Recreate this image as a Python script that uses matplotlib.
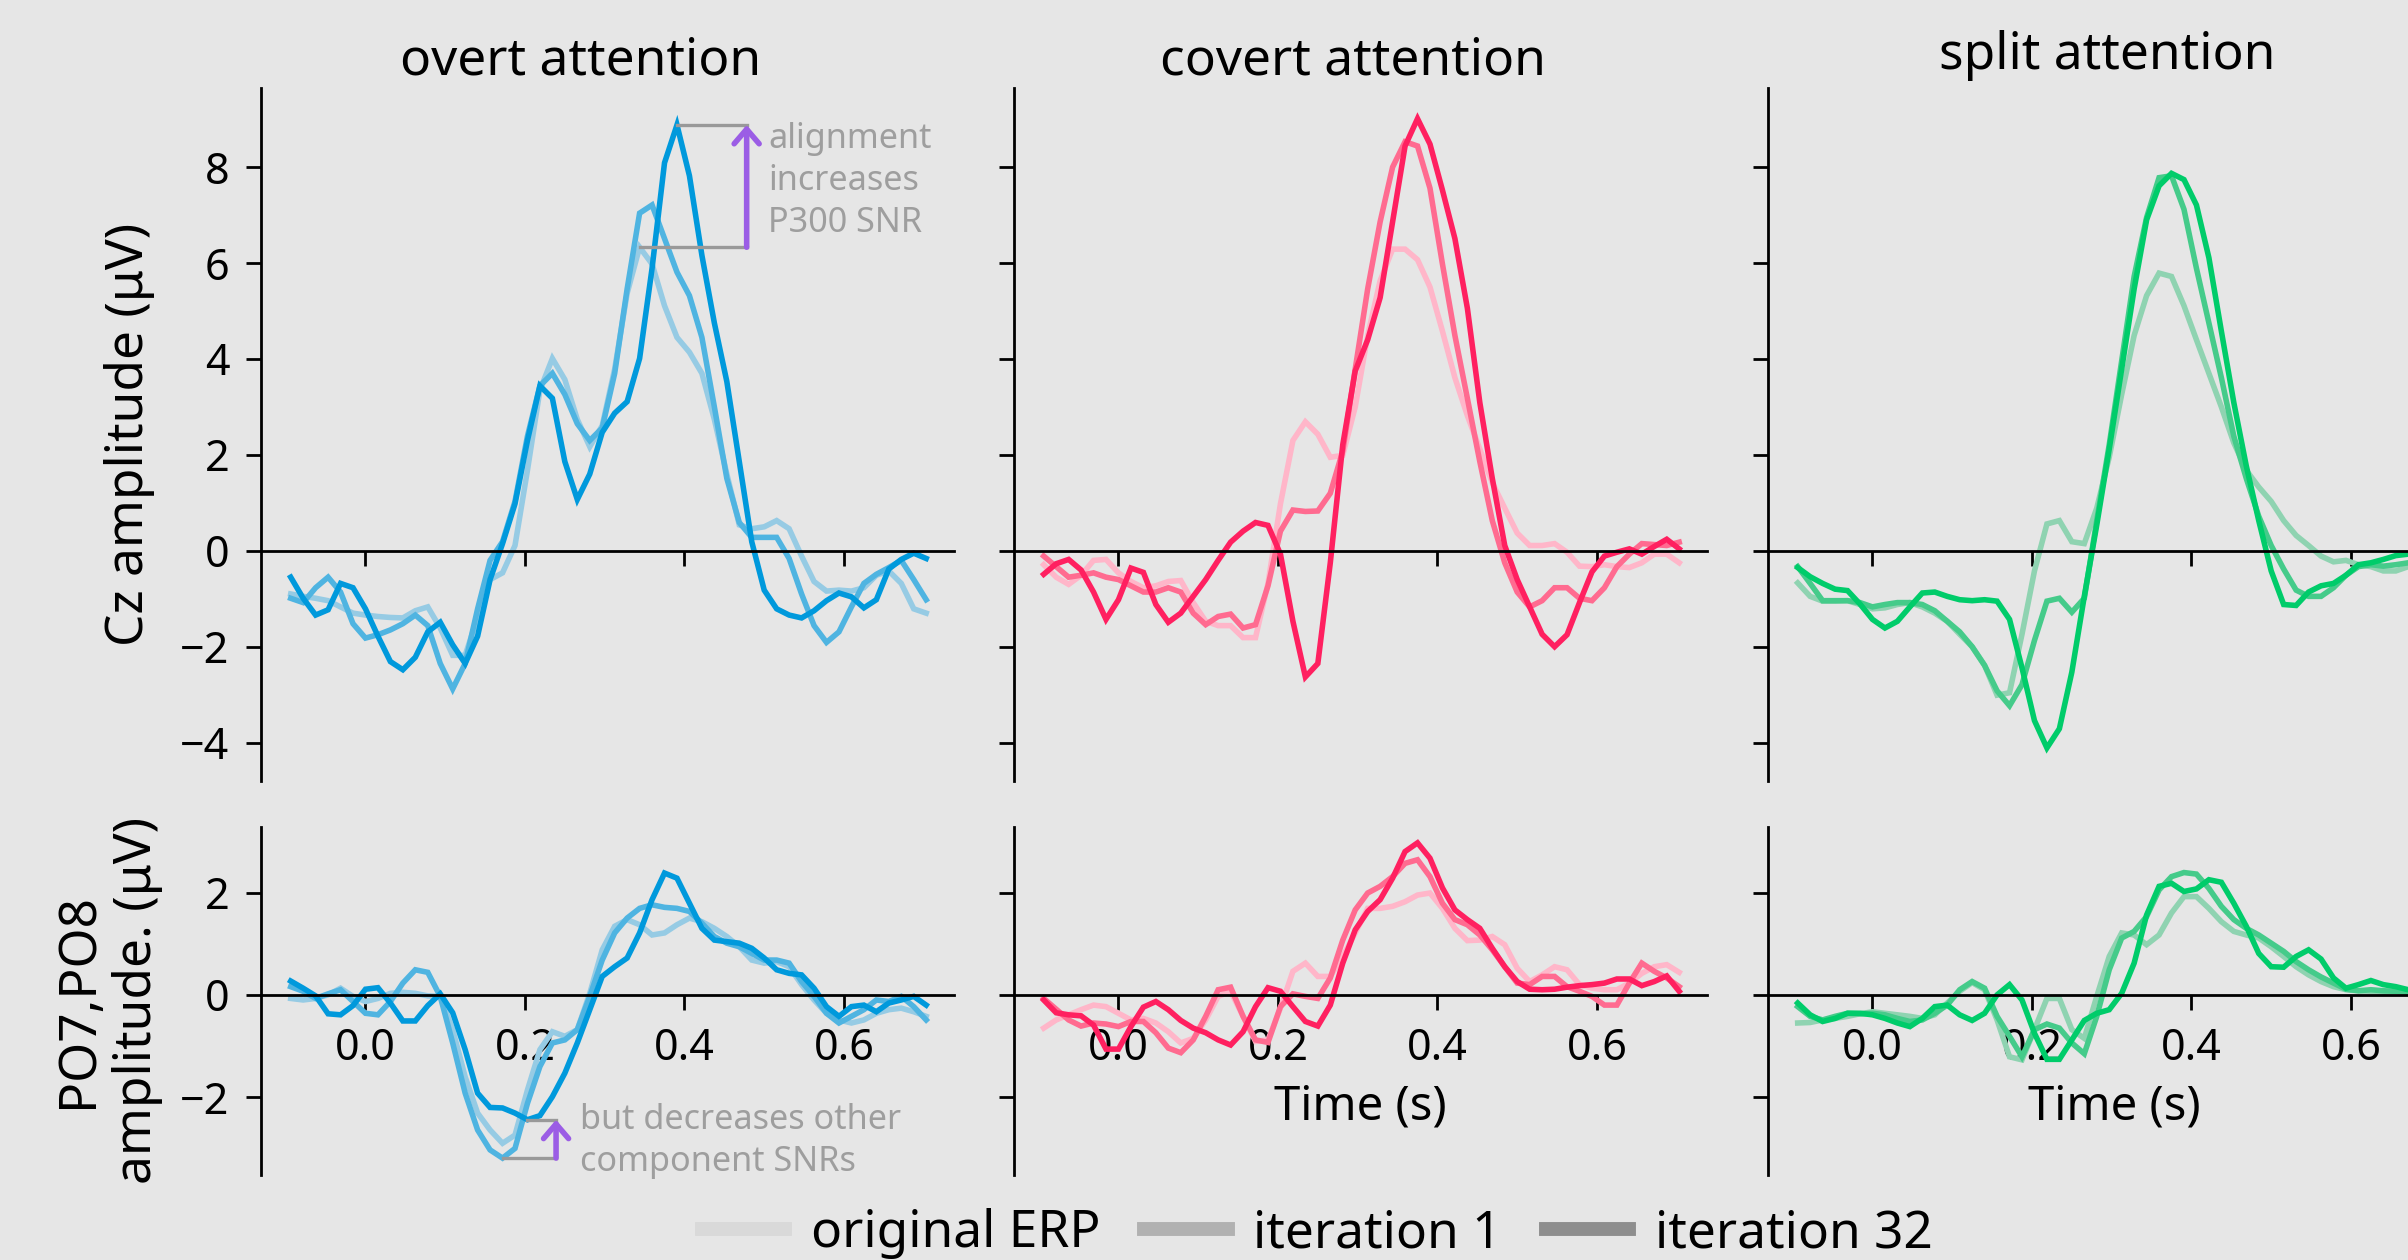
import numpy as np
import matplotlib as mpl
mpl.use('Agg')
import matplotlib.pyplot as plt
from matplotlib.lines import Line2D

plt.rcParams['font.family'] = ['Noto Sans', 'DejaVu Sans']

# 64 Hz samples, epoch starts at -0.09375 s
times = (np.arange(52) - 6) / 64.0

conditions = ['overt attention', 'covert attention', 'split attention']
legend_labels = ['original ERP', 'iteration 1', 'iteration 32']

# Cz amplitude (uV), top row
overt_cz_orig = [-0.90, -0.95, -0.99, -1.04, -1.17, -1.30, -1.34, -1.37, -1.39, -1.40, -1.25, -1.17, -1.61,
                 -2.18, -2.18, -1.39, -0.60, -0.46, 0.11, 1.68, 3.35, 4.01, 3.57, 2.74, 2.17, 2.61, 3.79,
                 5.37, 6.33, 5.98, 5.11, 4.45, 4.14, 3.70, 2.74, 1.60, 0.54, 0.46, 0.50, 0.63, 0.46, -0.11,
                 -0.64, -0.84, -0.82, -0.84, -0.77, -0.51, -0.42, -0.68, -1.21, -1.30]
overt_cz_it1 = [-0.99, -1.08, -0.77, -0.55, -0.86, -1.52, -1.82, -1.75, -1.65, -1.52, -1.34, -1.56, -2.35,
                -2.88, -2.35, -1.21, -0.20, 0.19, 1.03, 2.39, 3.44, 3.70, 3.26, 2.65, 2.30, 2.56, 3.70,
                5.46, 7.04, 7.21, 6.51, 5.81, 5.32, 4.45, 3.00, 1.51, 0.59, 0.28, 0.28, 0.28, -0.16, -0.90,
                -1.56, -1.91, -1.69, -1.17, -0.68, -0.49, -0.35, -0.20, -0.60, -1.02]
overt_cz_it32 = [-0.55, -0.99, -1.34, -1.23, -0.68, -0.77, -1.21, -1.78, -2.31, -2.48, -2.22, -1.69, -1.49,
                 -1.96, -2.35, -1.78, -0.60, 0.15, 0.98, 2.30, 3.44, 3.18, 1.86, 1.07, 1.60, 2.47, 2.87,
                 3.11, 4.01, 5.89, 8.09, 8.88, 7.82, 6.16, 4.75, 3.53, 1.86, 0.19, -0.82, -1.21, -1.34,
                 -1.40, -1.25, -1.04, -0.88, -0.96, -1.19, -1.02, -0.38, -0.18, -0.05, -0.16]

covert_cz_orig = [-0.29, -0.55, -0.70, -0.51, -0.20, -0.18, -0.46, -0.64, -0.77, -0.73, -0.64, -0.62, -1.08,
                  -1.47, -1.56, -1.56, -1.81, -1.81, -0.68, 0.98, 2.30, 2.69, 2.43, 1.95, 1.99, 3.00, 4.49,
                  5.63, 6.29, 6.29, 6.07, 5.50, 4.58, 3.61, 2.82, 2.12, 1.42, 0.89, 0.37, 0.11, 0.11, 0.15,
                  -0.03, -0.32, -0.33, -0.29, -0.33, -0.35, -0.25, -0.07, -0.07, -0.25]
covert_cz_it1 = [-0.11, -0.33, -0.55, -0.51, -0.46, -0.55, -0.60, -0.73, -0.86, -0.86, -0.77, -0.86, -1.30,
                 -1.54, -1.37, -1.32, -1.61, -1.54, -0.73, 0.41, 0.85, 0.82, 0.83, 1.20, 2.08, 3.79, 5.46,
                 6.86, 8.00, 8.53, 8.44, 7.56, 5.98, 4.49, 3.18, 1.86, 0.63, -0.25, -0.86, -1.17, -1.04,
                 -0.77, -0.77, -0.99, -1.04, -0.77, -0.33, -0.07, 0.15, 0.13, 0.11, 0.18]
covert_cz_it32 = [-0.49, -0.27, -0.18, -0.40, -0.86, -1.43, -1.02, -0.36, -0.45, -1.12, -1.49, -1.30, -0.95,
                  -0.60, -0.20, 0.18, 0.41, 0.59, 0.53, -0.07, -1.47, -2.63, -2.35, -0.25, 2.21, 3.75, 4.40,
                  5.28, 6.86, 8.44, 9.01, 8.48, 7.52, 6.51, 5.06, 3.09, 1.51, 0.11, -0.60, -1.17, -1.74,
                  -2.00, -1.75, -1.08, -0.44, -0.11, -0.03, 0.04, -0.07, 0.09, 0.24, 0.04]

split_cz_orig = [-0.67, -0.95, -1.05, -1.05, -1.04, -1.12, -1.21, -1.19, -1.12, -1.08, -1.17, -1.30, -1.47,
                 -1.74, -2.00, -2.39, -3.01, -2.96, -1.74, -0.42, 0.56, 0.63, 0.19, 0.15, 0.89, 1.95, 3.26,
                 4.49, 5.32, 5.79, 5.72, 5.11, 4.40, 3.70, 3.00, 2.25, 1.68, 1.33, 1.03, 0.63, 0.32, 0.11,
                 -0.11, -0.23, -0.20, -0.29, -0.33, -0.42, -0.42, -0.33, -0.30, -0.30]
split_cz_it1 = [-0.33, -0.68, -1.04, -1.04, -1.04, -1.08, -1.17, -1.12, -1.08, -1.08, -1.12, -1.25, -1.47,
                -1.69, -2.00, -2.39, -2.92, -3.23, -2.79, -1.87, -1.05, -0.99, -1.28, -0.99, 0.63, 2.21, 3.96,
                5.72, 6.95, 7.78, 7.82, 7.12, 5.89, 4.75, 3.61, 2.39, 1.51, 0.72, 0.11, -0.38, -0.82, -0.95,
                -0.95, -0.77, -0.51, -0.33, -0.29, -0.32, -0.29, -0.25, -0.22, -0.20]
split_cz_it32 = [-0.35, -0.54, -0.68, -0.80, -0.83, -1.11, -1.43, -1.61, -1.47, -1.17, -0.88, -0.86, -0.95,
                 -1.02, -1.04, -1.02, -1.05, -1.43, -2.44, -3.54, -4.11, -3.71, -2.53, -0.95, 0.54, 2.12, 3.79,
                 5.46, 6.90, 7.61, 7.87, 7.74, 7.21, 6.11, 4.58, 3.09, 1.77, 0.63, -0.42, -1.12, -1.14,
                 -0.86, -0.73, -0.68, -0.51, -0.29, -0.25, -0.18, -0.10, -0.07, -0.05, -0.03]

# PO7,PO8 amplitude (uV), bottom row
overt_po_orig = [-0.07, -0.10, -0.07, 0.00, 0.13, -0.03, -0.13, -0.07, 0.03, 0.05, 0.03, -0.02, -0.03,
                 -0.68, -1.60, -2.31, -2.64, -2.90, -2.74, -1.86, -1.07, -0.72, -0.81, -0.68, 0.03, 0.88,
                 1.34, 1.47, 1.37, 1.17, 1.21, 1.37, 1.50, 1.43, 1.30, 1.14, 0.94, 0.68, 0.62, 0.65, 0.55,
                 0.20, -0.10, -0.36, -0.49, -0.55, -0.49, -0.36, -0.29, -0.26, -0.33, -0.42]
overt_po_it1 = [0.16, 0.07, -0.07, 0.02, 0.10, -0.13, -0.36, -0.39, -0.13, 0.23, 0.49, 0.44, -0.03, -0.94,
                -1.92, -2.64, -3.03, -3.19, -3.00, -2.12, -1.40, -0.94, -0.88, -0.68, -0.03, 0.68, 1.21,
                1.50, 1.69, 1.76, 1.71, 1.69, 1.63, 1.40, 1.14, 1.01, 0.94, 0.81, 0.68, 0.68, 0.62, 0.26,
                -0.03, -0.36, -0.55, -0.42, -0.29, -0.10, -0.13, -0.03, -0.23, -0.49]
overt_po_it32 = [0.27, 0.13, -0.02, -0.37, -0.39, -0.21, 0.11, 0.14, -0.16, -0.51, -0.51, -0.21, 0.02,
                 -0.35, -1.07, -1.92, -2.20, -2.21, -2.31, -2.44, -2.36, -1.99, -1.53, -0.94, -0.29, 0.36,
                 0.55, 0.72, 1.21, 1.86, 2.38, 2.28, 1.79, 1.30, 1.07, 1.04, 1.01, 0.91, 0.72, 0.49, 0.42,
                 0.39, 0.13, -0.23, -0.42, -0.23, -0.20, -0.33, -0.16, -0.10, -0.03, -0.20]

covert_po_orig = [-0.65, -0.49, -0.39, -0.29, -0.20, -0.23, -0.36, -0.49, -0.46, -0.55, -0.72, -0.94, -0.85,
                  -0.49, -0.03, 0.07, -0.42, -0.91, -0.88, -0.26, 0.46, 0.62, 0.36, 0.36, 0.75, 1.21, 1.69,
                  1.69, 1.73, 1.82, 1.95, 1.99, 1.69, 1.30, 1.06, 1.07, 1.14, 0.98, 0.52, 0.26, 0.39, 0.55,
                  0.49, 0.20, 0.13, 0.10, 0.10, 0.23, 0.42, 0.55, 0.59, 0.44]
covert_po_it1 = [-0.07, -0.28, -0.49, -0.61, -0.55, -0.57, -0.62, -0.52, -0.52, -0.74, -1.04, -1.13, -0.88,
                 -0.42, 0.10, 0.15, -0.42, -0.88, -0.93, -0.23, 0.02, -0.03, -0.07, 0.33, 1.07, 1.66, 1.99,
                 2.12, 2.31, 2.57, 2.64, 2.31, 1.79, 1.47, 1.37, 1.17, 0.88, 0.55, 0.23, 0.20, 0.36, 0.36,
                 0.16, 0.07, -0.03, -0.20, -0.20, 0.23, 0.62, 0.46, 0.33, 0.16]
covert_po_it32 = [-0.10, -0.35, -0.39, -0.41, -0.59, -1.06, -1.06, -0.62, -0.24, -0.13, -0.29, -0.50, -0.65,
                  -0.74, -0.88, -0.98, -0.72, -0.23, 0.14, 0.07, -0.23, -0.52, -0.61, -0.20, 0.62, 1.27, 1.63,
                  1.86, 2.28, 2.80, 2.97, 2.67, 2.09, 1.66, 1.47, 1.30, 0.91, 0.55, 0.26, 0.11, 0.10, 0.11,
                  0.15, 0.18, 0.20, 0.23, 0.31, 0.31, 0.18, 0.26, 0.37, 0.07]

split_po_orig = [-0.55, -0.54, -0.49, -0.46, -0.42, -0.37, -0.33, -0.36, -0.39, -0.42, -0.46, -0.39, -0.16,
                 0.07, 0.24, 0.10, -0.49, -1.21, -1.27, -0.68, -0.07, -0.07, -0.68, -0.85, -0.03, 0.75, 1.21,
                 1.17, 0.98, 1.17, 1.60, 1.92, 1.92, 1.69, 1.43, 1.24, 1.17, 1.11, 0.94, 0.75, 0.55, 0.39,
                 0.26, 0.16, 0.10, 0.08, 0.07, 0.05, 0.07, 0.07, 0.06, 0.05]
split_po_it1 = [-0.23, -0.42, -0.49, -0.42, -0.36, -0.37, -0.36, -0.39, -0.46, -0.52, -0.49, -0.36, -0.20,
                0.10, 0.26, 0.13, -0.42, -0.81, -1.21, -0.68, -0.57, -0.65, -0.94, -1.15, -0.42, 0.49, 1.11,
                1.24, 1.53, 2.05, 2.31, 2.39, 2.36, 2.08, 1.73, 1.47, 1.30, 1.17, 1.01, 0.85, 0.65, 0.49,
                0.35, 0.23, 0.11, 0.08, 0.10, 0.08, 0.07, 0.05, 0.04, 0.03]
split_po_it32 = [-0.16, -0.39, -0.52, -0.46, -0.36, -0.36, -0.39, -0.46, -0.55, -0.62, -0.46, -0.23, -0.20,
                 -0.39, -0.50, -0.36, 0.00, 0.20, -0.10, -0.75, -1.26, -1.26, -0.88, -0.50, -0.36, -0.29, 0.03,
                 0.62, 1.56, 2.12, 2.18, 2.02, 2.07, 2.25, 2.20, 1.79, 1.34, 0.81, 0.55, 0.54, 0.75, 0.88,
                 0.70, 0.33, 0.13, 0.20, 0.28, 0.20, 0.16, 0.10, 0.08, 0.06]

cz_data = [[overt_cz_orig, overt_cz_it1, overt_cz_it32],
           [covert_cz_orig, covert_cz_it1, covert_cz_it32],
           [split_cz_orig, split_cz_it1, split_cz_it32]]
po_data = [[overt_po_orig, overt_po_it1, overt_po_it32],
           [covert_po_orig, covert_po_it1, covert_po_it32],
           [split_po_orig, split_po_it1, split_po_it32]]

# light -> dark per condition
line_colors = [['#96cbe4', '#4fb4e1', '#0099dc'],
               ['#ffb6c9', '#ff6b90', '#ff2060'],
               ['#8fd3b1', '#45cb8a', '#00cc6a']]
legend_colors = ['#d9d9d9', '#b1b1b1', '#8e8e8e']

bg = '#e6e6e6'
W, H = 2408, 1260
fig = plt.figure(figsize=(W / 200, H / 200), dpi=200, facecolor=bg)


def add_ax(x0, y0, w, h):
    return fig.add_axes([x0 / W, 1 - (y0 + h) / H, w / W, h / H])


lefts = [261, 1014, 1768]
axw = 693
top_axes = [add_ax(x, 88, axw, 693) for x in lefts]
bot_axes = [add_ax(x, 827, axw, 348) for x in lefts]

for row, axes in enumerate([top_axes, bot_axes]):
    for col, ax in enumerate(axes):
        ax.set_facecolor(bg)
        data = cz_data[col] if row == 0 else po_data[col]
        for i in range(3):
            ax.plot(times, data[i], color=line_colors[col][i], lw=2.0, solid_joinstyle='miter')
        ax.spines['top'].set_visible(False)
        ax.spines['right'].set_visible(False)
        ax.spines['bottom'].set_position(('data', 0))
        ax.spines['left'].set_linewidth(1.0)
        ax.spines['bottom'].set_linewidth(1.0)
        ax.set_xlim(-0.131, 0.738)
        ax.set_xticks([0.0, 0.2, 0.4, 0.6])
        ax.xaxis.set_major_formatter('{x:.1f}')
        ax.tick_params(direction='out', length=5.4, width=1.0, labelsize=15.5, pad=6)
        if row == 0:
            ax.set_ylim(-4.80, 9.65)
            ax.set_yticks([-4, -2, 0, 2, 4, 6, 8])
            ax.tick_params(axis='x', labelbottom=False)
        else:
            ax.set_ylim(-3.52, 3.28)
            ax.set_yticks([-2, 0, 2])
        if col > 0:
            ax.tick_params(axis='y', labelleft=False)

# titles
title_x = [0.461, 0.489, 0.489]
title_y = [1.0202, 1.0202, 1.0274]
for col, ax in enumerate(top_axes):
    ax.text(title_x[col], title_y[col], conditions[col], transform=ax.transAxes, ha='center',
            va='baseline', fontsize=18.5)

top_axes[0].text(-0.19, 0.5, 'Cz amplitude (μV)', transform=top_axes[0].transAxes, rotation=90,
                 ha='center', va='center', fontsize=18.5)
bot_axes[0].text(-0.221, 0.5, 'PO7,PO8\namplitude. (μV)', transform=bot_axes[0].transAxes, rotation=90,
                 ha='center', va='center', fontsize=18.5, multialignment='center')

for ax in bot_axes[1:]:
    ax.set_xlabel('Time (s)', fontsize=17)
    ax.xaxis.set_label_coords(0.5, 0.264)

# annotations
note_gray = '#999999'
note_text = '#9e9e9e'
arrow_purple = '#9b5de5'
ax = top_axes[0]
t32 = np.array(overt_cz_it32)
t0 = np.array(overt_cz_orig)
x_arrow = 0.478
ax.plot([times[t32.argmax()], x_arrow], [t32.max(), t32.max()], color=note_gray, lw=1.2, zorder=4)
ax.plot([times[t0.argmax()], x_arrow], [t0.max(), t0.max()], color=note_gray, lw=1.2, zorder=4)
ax.annotate('', xy=(x_arrow, t32.max()), xytext=(x_arrow, t0.max()),
            arrowprops=dict(arrowstyle='->,head_length=0.35,head_width=0.3', color=arrow_purple, lw=2.0,
                            shrinkA=0, shrinkB=0, mutation_scale=15), zorder=5)
ax.text(0.505, 6.64, 'alignment\nincreases\nP300 SNR', color=note_text, fontsize=12.3, va='baseline',
        ha='left', linespacing=1.32)

ax = bot_axes[0]
p32 = np.array(overt_po_it32)
p1 = np.array(overt_po_it1)
x_arrow = 0.239
ax.plot([times[p32.argmin()], x_arrow], [p32.min(), p32.min()], color=note_gray, lw=1.2, zorder=4)
ax.plot([times[p1.argmin()], x_arrow], [p1.min(), p1.min()], color=note_gray, lw=1.2, zorder=4)
ax.annotate('', xy=(x_arrow, p32.min()), xytext=(x_arrow, p1.min()),
            arrowprops=dict(arrowstyle='->,head_length=0.35,head_width=0.3', color=arrow_purple, lw=2.0,
                            shrinkA=0, shrinkB=0, mutation_scale=15), zorder=5)
ax.text(0.269, -3.45, 'but decreases other\ncomponent SNRs', color=note_text, fontsize=12.3, va='baseline',
        ha='left', linespacing=1.32)

handles = [Line2D([0], [0], color=c, lw=5.0) for c in legend_colors]
fig.legend(handles, legend_labels, loc='center', bbox_to_anchor=(0.547, 0.021), ncol=3, frameon=False,
           fontsize=18.5, handlelength=1.62, handletextpad=0.5, columnspacing=0.86)

fig.savefig('out.png', dpi=200, facecolor=bg)
